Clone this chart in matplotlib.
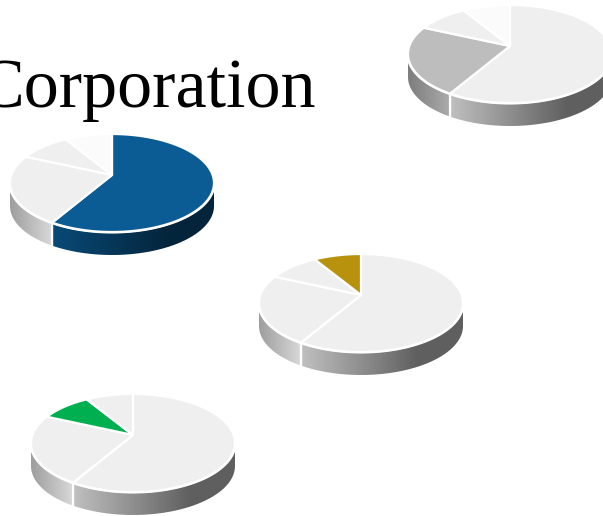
import numpy as np
import matplotlib
matplotlib.use("Agg")
import matplotlib.pyplot as plt
from matplotlib.patches import Polygon
from matplotlib.colors import to_rgb, LinearSegmentedColormap

TITLE = "Corporation"
shares = [60, 24, 8.5, 7.5]
LIGHT = "#efefef"
PALE = "#fbfbfb"
pie_blue = ["#0b5c94", LIGHT, LIGHT, PALE]
pie_gray = [LIGHT, "#bdbdbd", LIGHT, PALE]
pie_gold = [LIGHT, LIGHT, LIGHT, "#b8920c"]
pie_green = [LIGHT, LIGHT, "#00b050", LIGHT]
pie_centres = [(112, 134), (510, 5), (361, 254), (133, 394)]
pie_colours = [pie_blue, pie_gray, pie_gold, pie_green]

RX, RY, APEX, DEPTH = 102, 49, 41, 23

fig = plt.figure(figsize=(6.03, 5.16), dpi=100)
ax = fig.add_axes([0, 0, 1, 1])
ax.axis("off")


def rim(cx, cy, t):
    t = np.radians(t)
    return cx + RX * np.sin(t), cy - RY * np.cos(t)


def wall(cx, cy, t0, t1, stops):
    t = np.linspace(t0, t1, 80)
    x, y = rim(cx, cy, t)
    pts = np.r_[np.c_[x, y], np.c_[x[::-1], y[::-1] + DEPTH]]
    poly = Polygon(pts, closed=True, fc="none", ec="none", transform=ax.transData)
    ax.add_patch(poly)
    cmap = LinearSegmentedColormap.from_list("w", stops)
    im = ax.imshow(np.linspace(0, 1, 256)[None, :], cmap=cmap, aspect="auto",
                   extent=(x.min(), x.max(), y.max() + DEPTH, y.min()), zorder=1,
                   interpolation="bilinear")
    im.set_clip_path(poly)


def scaled(colour, k):
    return tuple(min(1, c * k) for c in to_rgb(colour))


def draw_pie(cx, top, colours):
    cy = top + RY
    edges = np.r_[0, np.cumsum(shares)] * 360 / sum(shares)
    # the outer wall: front of the first two slices
    w0, w1 = colours[0], colours[1]
    wall(cx, cy, 90, edges[1] - 0.8,
         [(0, scaled(w0, .80)), (.45, scaled(w0, .55)), (.72, scaled(w0, .40)), (1, scaled(w0, .40))])
    wall(cx, cy, edges[1] + 0.8, 270,
         [(0, scaled(w1, .66)), (1, scaled(w1, .90))])
    # the top surface
    t = np.linspace(0, 360, 361)
    x, y = rim(cx, cy, t)
    ax.add_patch(Polygon(np.c_[x, y], closed=True, fc="white", ec="white", lw=2.2, zorder=2))
    for a, b, c in zip(edges[:-1], edges[1:], colours):
        t = np.linspace(a, b, 90)
        x, y = rim(cx, cy, t)
        pts = np.r_[[(cx, top + APEX)], np.c_[x, y]]
        ax.add_patch(Polygon(pts, closed=True, fc=c, ec="white", lw=1.6, zorder=3))


for (cx, top), colours in zip(pie_centres, pie_colours):
    draw_pie(cx, top, colours)

ax.text(-23, 107, TITLE, family="Liberation Serif", fontsize=50.5, color="black",
        ha="left", va="baseline", zorder=4)
ax.set_xlim(0, 603)
ax.set_ylim(516, 0)
fig.savefig("out.png", dpi=100)
